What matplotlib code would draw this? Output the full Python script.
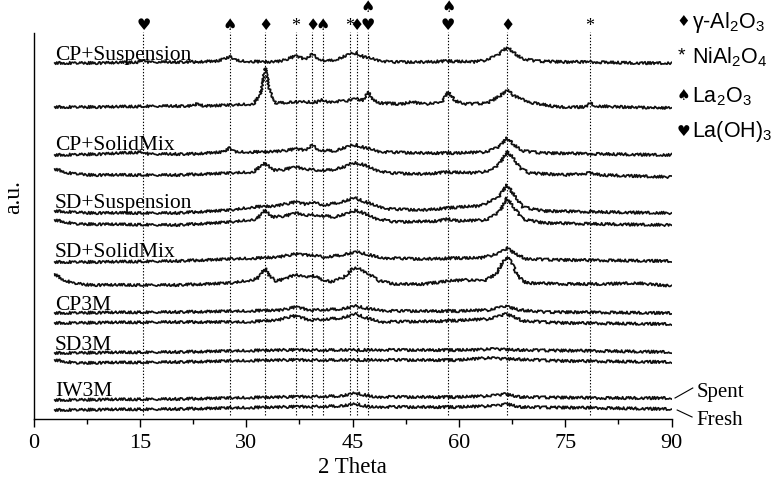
import matplotlib
matplotlib.use("Agg")
import matplotlib.pyplot as plt
from matplotlib.ticker import MultipleLocator

plt.rcParams['font.family'] = ['Liberation Serif', 'DejaVu Serif']
plt.rcParams['mathtext.fontset'] = 'custom'
plt.rcParams['mathtext.rm'] = 'Liberation Sans'
plt.rcParams['mathtext.default'] = 'rm'

# ---------------- data (2 theta in degrees, intensity in a.u.) ----------------
cp_susp_spent_2t = [3, 10, 15, 15.5, 16, 22, 26, 27.7, 29, 33, 35, 37, 38.3, 39.3, 40.3, 41.5, 43, 44.6, 45.6,
                    46.6, 47.5, 48.5, 50, 55, 58.5, 62, 64, 65.5, 66.5, 67, 67.8, 69, 71, 75, 78.5, 85, 90]
cp_susp_spent_i = [9, 9, 10, 13, 10, 10, 11, 15, 11, 10, 11, 16, 13, 18, 13, 11, 13, 18, 19,
                   15, 14, 12, 10, 10, 11, 10, 12, 17, 23, 24, 19, 13, 11, 10, 10, 9, 9]

cp_susp_fresh_2t = [3, 10, 18, 22.5, 23.1, 24, 28, 31, 32.0, 32.7, 33.4, 34.2, 37, 40, 40.7, 41.5, 44, 45.5, 46.5,
                    47.2, 47.9, 49, 52, 53.4, 55, 57.5, 58.5, 59.5, 61, 64, 65.8, 66.8, 67.8, 68.8, 70.5, 74,
                    77.8, 78.5, 79.3, 83, 90]
cp_susp_fresh_i = [10, 10, 11, 11, 14, 11, 12, 13, 22, 49, 25, 14, 15, 15, 17, 15, 16, 18, 17,
                   25, 17, 14, 13, 15, 13, 14, 25, 16, 13, 14, 21, 27, 21, 18, 14, 10,
                   10, 14, 11, 10, 9]

cp_solid_spent_2t = [3, 10, 15.5, 16.2, 22, 26.8, 27.7, 28.6, 32, 35, 37, 38.3, 39.3, 40.3, 42.5, 44.6, 45.6,
                     46.8, 47.6, 49, 55, 60, 64, 65.8, 66.8, 67.8, 69, 72, 80, 90]
cp_solid_spent_i = [9, 10, 12, 10, 10, 12, 16, 12, 12, 13, 15, 14, 19, 14, 13, 18, 19,
                    16, 15, 12, 11, 11, 12, 18, 26, 19, 13, 11, 10, 9]

cp_solid_fresh_2t = [3, 5, 8, 20, 28, 31, 32.7, 33.8, 35, 37, 38.5, 40, 42, 43.8, 45, 45.8, 47, 48.3, 50, 55,
                     58.5, 62, 64.5, 65.8, 66.8, 67.6, 68.6, 70, 75, 78.5, 80, 90]
cp_solid_fresh_i = [15, 11, 9, 9, 11, 12, 21, 14, 14, 17, 15, 14, 14, 17, 21, 21, 18, 14, 11, 10,
                    12, 11, 13, 21, 32, 27, 16, 11, 9, 11, 9, 7]

sd_susp_spent_2t = [3, 8, 20, 28, 31, 34, 37, 38.3, 39.3, 41, 43.5, 45.3, 46.5, 48, 50, 55, 60, 63, 65.5,
                    66.8, 67.8, 69, 72, 80, 90]
sd_susp_spent_i = [11, 9, 9, 12, 15, 16, 20, 18, 20, 17, 20, 24, 21, 17, 13, 12, 15, 16, 24,
                   37, 27, 15, 11, 10, 9]

sd_susp_fresh_2t = [3, 6, 20, 28, 31.5, 32.7, 33.6, 35.5, 37, 38.5, 40, 42.5, 44.5, 45.6, 46.8, 48.5, 51, 57,
                    58.5, 60, 64, 65.8, 66.8, 67.8, 69, 72, 80, 90]
sd_susp_fresh_i = [13, 9, 8, 11, 14, 23, 16, 17, 20, 18, 18, 16, 20, 23, 19, 14, 11, 12,
                   14, 12, 13, 22, 35, 25, 14, 10, 9, 8]

sd_solid_spent_2t = [3, 10, 20, 28, 32, 34.5, 37, 38.5, 39.5, 41, 43.5, 45.5, 47, 49, 55, 60, 63, 65.5, 66.8,
                     68, 69.5, 75, 90]
sd_solid_spent_i = [8, 8, 9, 11, 12, 13, 16, 15, 15, 13, 15, 18, 16, 12, 11, 12, 12, 16, 22,
                    16, 11, 10, 9]

sd_solid_fresh_2t = [3, 4, 5.5, 8, 20, 28, 31.5, 32.1, 32.7, 33.3, 34.2, 35.5, 37, 38.2, 39.3, 40.5, 42, 43.8,
                     45, 45.8, 46.8, 47.5, 48.8, 51, 55, 58.5, 61, 63.5, 65.3, 66.2, 66.8, 67.5, 68.3, 69.5,
                     75, 80, 85, 90]
sd_solid_fresh_i = [20, 15, 11, 9, 9, 11, 15, 20, 26, 18, 13, 15, 20, 17, 19, 15, 12, 17,
                    25, 26, 22, 19, 13, 10, 10, 13, 14, 13, 20, 32, 37, 31, 18, 11,
                    10, 10, 11, 8]

cp3m_spent_2t = [3, 20, 30, 35, 37, 39, 43.5, 45.5, 47.5, 50, 60, 64.5, 66.5, 68.5, 72, 90]
cp3m_spent_i = [9, 10, 11, 12, 15, 12, 13, 16, 13, 11, 11, 12, 16, 12, 10, 9]

cp3m_fresh_2t = [3, 20, 30, 34.5, 36.5, 37.5, 39, 43.5, 45.5, 47, 49, 58, 64.5, 66.5, 67.5, 69, 75, 90]
cp3m_fresh_i = [10, 11, 11, 13, 17, 16, 13, 15, 19, 15, 11, 12, 14, 19, 17, 12, 10, 9]

sd3m_spent_2t = [3, 20, 35, 50, 62, 65, 68, 80, 90]
sd3m_spent_i = [9, 10, 12, 12, 12, 13, 12, 11, 10]

sd3m_fresh_2t = [3, 6, 20, 35, 50, 60, 64, 67, 75, 90]
sd3m_fresh_i = [12, 9, 10, 12, 12, 12, 14, 13, 11, 10]

iw3m_spent_2t = [3, 20, 35, 43.5, 45.5, 48, 60, 64.5, 66.5, 68.5, 80, 90]
iw3m_spent_i = [9, 10, 12, 13, 16, 12, 12, 13, 15, 12, 11, 11]

iw3m_fresh_2t = [3, 20, 35, 43.5, 45.5, 47.5, 60, 65, 66.8, 68.5, 80, 90]
iw3m_fresh_i = [9, 10, 12, 13, 15, 12, 12, 13, 15, 12, 11, 10]

trace_2theta = [cp_susp_spent_2t, cp_susp_fresh_2t, cp_solid_spent_2t, cp_solid_fresh_2t,
                sd_susp_spent_2t, sd_susp_fresh_2t, sd_solid_spent_2t, sd_solid_fresh_2t,
                cp3m_spent_2t, cp3m_fresh_2t, sd3m_spent_2t, sd3m_fresh_2t,
                iw3m_spent_2t, iw3m_fresh_2t]
trace_int = [cp_susp_spent_i, cp_susp_fresh_i, cp_solid_spent_i, cp_solid_fresh_i,
             sd_susp_spent_i, sd_susp_fresh_i, sd_solid_spent_i, sd_solid_fresh_i,
             cp3m_spent_i, cp3m_fresh_i, sd3m_spent_i, sd3m_fresh_i,
             iw3m_spent_i, iw3m_fresh_i]
trace_offsets = [347, 302, 255, 235, 197, 186, 149, 125, 97, 86, 57, 47, 10, 0]

sample_labels = ['CP+Suspension', 'CP+SolidMix', 'SD+Suspension', 'SD+SolidMix', 'CP3M', 'SD3M', 'IW3M']
label_y = [359, 269, 211, 162, 109, 69, 23]

ref_2theta = [15.5, 27.7, 32.7, 37.0, 39.3, 40.8, 44.6, 45.6, 47.2, 58.5, 66.8, 78.5]
ref_symbol = ['♥', '♠', '♦', '*', '♦', '♠', '*', '♦', '♥', '♥', '♦', '*']
ref_top_2theta = [47.2, 58.5]
ref_top_symbol = ['♠', '♠']

legend_symbols = ['♦', '*', '♠', '♥']
legend_names = [r'γ-Al$_2$O$_3$', r'NiAl$_2$O$_4$', r'La$_2$O$_3$', r'La(OH)$_3$']

# ---------------- figure ----------------
W, H = 784, 486
fig = plt.figure(figsize=(W / 100, H / 100), dpi=100)
ax_left, ax_right, ax_bottom, ax_top = 33.5, 671.5, 419, 33
ax = fig.add_axes([ax_left / W, 1 - ax_bottom / H, (ax_right - ax_left) / W, (ax_bottom - ax_top) / H])
ax.set_xlim(0, 90)
ax.set_ylim(0, ax_bottom - ax_top)

for xs, ys, off in zip(trace_2theta, trace_int, trace_offsets):
    ln, = ax.plot(xs, [v + off for v in ys], color='#111111', lw=1.25, solid_joinstyle='round')
    ln.set_sketch_params(scale=1.3, length=1.2, randomness=3)

ax.vlines(ref_2theta, 4, ax_bottom - ax_top + 1, colors='black', linestyles=(0, (1.2, 1.6)),
          lw=0.8, clip_on=False)

for x, s in zip(ref_2theta, ref_symbol):
    if s == '*':
        ax.text(x, 392, s, ha='center', va='center', fontsize=13, family='Liberation Serif', clip_on=False)
    else:
        ax.text(x, 393, s, ha='center', va='center', fontsize=11.5, family='DejaVu Sans', clip_on=False)
for x, s in zip(ref_top_2theta, ref_top_symbol):
    ax.text(x, 411, s, ha='center', va='center', fontsize=11.5, family='DejaVu Sans', clip_on=False)

for lab, y in zip(sample_labels, label_y):
    ax.text(3.0, y, lab, ha='left', va='baseline', fontsize=15.5)

# spent / fresh annotations
ax.plot([90.5, 93.0], [21, 31], color='black', lw=0.8, clip_on=False)
ax.plot([90.8, 92.9], [9, 2], color='black', lw=0.8, clip_on=False)
ax.text(93.5, 22, 'Spent', ha='left', va='baseline', fontsize=15, clip_on=False)
ax.text(93.5, -6, 'Fresh', ha='left', va='baseline', fontsize=15, clip_on=False)

# legend (outside the axes)
leg_y = [22, 57, 96, 131]
for s, name, y in zip(legend_symbols, legend_names, leg_y):
    if s == '*':
        fig.text(681 / W, 1 - (y - 1) / H, s, ha='center', va='center', fontsize=14, family='Liberation Sans')
    else:
        fig.text(683 / W, 1 - y / H, s, ha='center', va='center', fontsize=11, family='DejaVu Sans')
    fig.text(692 / W, 1 - (y + 6) / H, name, ha='left', va='baseline', fontsize=15.5, family='Liberation Sans')

# axes styling
for side in ['top', 'right']:
    ax.spines[side].set_visible(False)
ax.spines['left'].set_linewidth(1.0)
ax.spines['bottom'].set_linewidth(1.0)
ax.set_yticks([])
ax.xaxis.set_major_locator(MultipleLocator(15))
ax.xaxis.set_minor_locator(MultipleLocator(7.5))
ax.tick_params(axis='x', which='major', direction='out', length=6, width=1.0, labelsize=16, pad=5)
ax.tick_params(axis='x', which='minor', direction='out', length=3.5, width=1.0)
ax.set_xlabel('2 Theta', fontsize=16.5, labelpad=3)
fig.text(14 / W, 1 - 197 / H, 'a.u.', rotation=90, ha='center', va='center', fontsize=17)

fig.savefig('out.png', dpi=100)
